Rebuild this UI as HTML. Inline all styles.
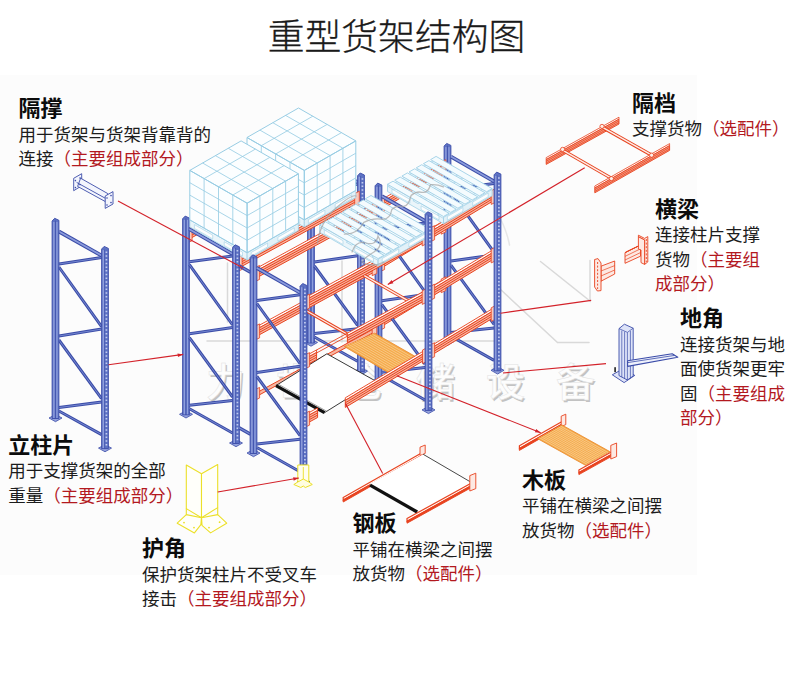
<!DOCTYPE html>
<html lang="zh-CN"><head><meta charset="utf-8"><title>重型货架结构图</title>
<style>
html,body{margin:0;padding:0;background:#fff;}
body{width:790px;height:692px;position:relative;overflow:hidden;font-family:"Liberation Sans","Noto Sans CJK SC",sans-serif;color:#151515;}
#bg{position:absolute;left:0;top:75px;width:697px;height:500px;background:#fcfcfc;}
#art{position:absolute;left:0;top:0;width:790px;height:692px;}
h1{position:absolute;left:1.5px;top:15px;width:790px;margin:0;text-align:center;font-size:36.8px;line-height:46px;font-weight:300;color:#1a1a1a;letter-spacing:0;-webkit-text-stroke:0.3px #1a1a1a;}
.lb{position:absolute;white-space:nowrap;}
.lb b{display:block;font-size:22px;line-height:24px;font-weight:700;color:#0c0c0c;height:27px;}
.lb p{position:absolute;left:0;margin:0;}
.lb span{display:block;font-size:17.5px;line-height:24.4px;font-weight:400;color:#1c1c1c;}
.lb em{font-style:normal;color:#b3191f;}
</style></head>
<body>
<div id="bg"></div>
<svg id="art" width="790" height="692" viewBox="0 0 790 692">
<g fill="none" stroke="#d6d6d6" stroke-width="1.5" stroke-linecap="round" opacity="0.9">
<path d="M207 341H498"/>
<path d="M227.5 263V322M342 261V342"/>
<path d="M540.5 261.5L590 301V260.5"/>
<path d="M500 289L557.5 342.5H589"/>
<path d="M509.5 245A95 95 0 0 0 500 218" stroke="#e4e4e4"/>
</g>
<text x="206 276 346 416 486 556" y="396.4" font-family="'Liberation Sans','Noto Sans CJK SC',sans-serif" font-size="39" font-weight="500" fill="#c2c2c2" transform="translate(1.5 1.4)">力世仓储设备</text>
<text x="206 276 346 416 486 556" y="396.4" font-family="'Liberation Sans','Noto Sans CJK SC',sans-serif" font-size="39" font-weight="500" fill="#fdfdfd" stroke="#e2e2e2" stroke-width="0.5">力世仓储设备</text>
<line x1="58.9" y1="231.5" x2="101.6" y2="255.6" stroke="#3b4ca8" stroke-width="3.8" stroke-linecap="butt"/>
<line x1="58.9" y1="231.5" x2="101.6" y2="255.6" stroke="#8a9bdc" stroke-width="1.7" />
<line x1="58.9" y1="264" x2="101.6" y2="257.6" stroke="#3b4ca8" stroke-width="3" stroke-linecap="butt"/>
<line x1="58.9" y1="264" x2="101.6" y2="257.6" stroke="#7a8dd4" stroke-width="0.9" />
<line x1="58.9" y1="267" x2="101.6" y2="326.6" stroke="#3b4ca8" stroke-width="3" stroke-linecap="butt"/>
<line x1="58.9" y1="267" x2="101.6" y2="326.6" stroke="#7a8dd4" stroke-width="0.9" />
<line x1="58.9" y1="336" x2="101.6" y2="329.1" stroke="#3b4ca8" stroke-width="3" stroke-linecap="butt"/>
<line x1="58.9" y1="336" x2="101.6" y2="329.1" stroke="#7a8dd4" stroke-width="0.9" />
<line x1="58.9" y1="340" x2="101.6" y2="398.6" stroke="#3b4ca8" stroke-width="3" stroke-linecap="butt"/>
<line x1="58.9" y1="340" x2="101.6" y2="398.6" stroke="#7a8dd4" stroke-width="0.9" />
<line x1="58.9" y1="407.5" x2="101.6" y2="402.1" stroke="#3b4ca8" stroke-width="3" stroke-linecap="butt"/>
<line x1="58.9" y1="407.5" x2="101.6" y2="402.1" stroke="#7a8dd4" stroke-width="0.9" />
<line x1="58.9" y1="411" x2="101.6" y2="434.6" stroke="#3b4ca8" stroke-width="3" stroke-linecap="butt"/>
<line x1="58.9" y1="411" x2="101.6" y2="434.6" stroke="#7a8dd4" stroke-width="0.9" />
<polygon points="49,418 55.5,414.5 62,418 55.5,421.7" fill="#93a1dc" stroke="#3b4ca8" stroke-width="0.8" />
<polygon points="52.1,221 54.7,218.3 58.9,220.3 58.9,418.5 52.1,418.5" fill="#5d72c4" stroke="#3b4ca8" stroke-width="0.9" />
<rect x="53.2" y="222" width="1.5" height="196" fill="#8f9fdd"/>
<rect x="56.3" y="222" width="1.3" height="196" fill="#8f9fdd"/>
<line x1="55.4" y1="220.5" x2="55.4" y2="418.5" stroke="#3b4ca8" stroke-width="0.8" />
<polygon points="98.5,448.1 105,444.6 111.5,448.1 105,451.8" fill="#93a1dc" stroke="#3b4ca8" stroke-width="0.8" />
<polygon points="101.6,249.1 104.2,246.4 108.4,248.4 108.4,448.6 101.6,448.6" fill="#5d72c4" stroke="#3b4ca8" stroke-width="0.9" />
<rect x="102.6" y="250.1" width="1.7" height="198" fill="#8f9fdd"/>
<line x1="106.4" y1="251.6" x2="106.4" y2="446.6" stroke="#c3ccf0" stroke-width="1.7" stroke-dasharray="1.5 2.2"/>
<line x1="104.6" y1="249.6" x2="104.6" y2="448.6" stroke="#3b4ca8" stroke-width="0.7" />
<polygon points="304.5,342.5 311,339 317.5,342.5 311,346.2" fill="#93a1dc" stroke="#3b4ca8" stroke-width="0.8" />
<polygon points="307.6,147 310.2,144.3 314.4,146.3 314.4,343 307.6,343" fill="#5d72c4" stroke="#3b4ca8" stroke-width="0.9" />
<rect x="308.7" y="148" width="1.5" height="194.5" fill="#8f9fdd"/>
<rect x="311.8" y="148" width="1.3" height="194.5" fill="#8f9fdd"/>
<line x1="310.9" y1="146.5" x2="310.9" y2="343" stroke="#3b4ca8" stroke-width="0.8" />
<line x1="314.4" y1="157.5" x2="357.6" y2="182.3" stroke="#3b4ca8" stroke-width="3.8" stroke-linecap="butt"/>
<line x1="314.4" y1="157.5" x2="357.6" y2="182.3" stroke="#8a9bdc" stroke-width="1.7" />
<line x1="314.4" y1="190" x2="357.6" y2="184.3" stroke="#3b4ca8" stroke-width="3" stroke-linecap="butt"/>
<line x1="314.4" y1="190" x2="357.6" y2="184.3" stroke="#7a8dd4" stroke-width="0.9" />
<line x1="314.4" y1="193" x2="357.6" y2="253.3" stroke="#3b4ca8" stroke-width="3" stroke-linecap="butt"/>
<line x1="314.4" y1="193" x2="357.6" y2="253.3" stroke="#7a8dd4" stroke-width="0.9" />
<line x1="314.4" y1="262" x2="357.6" y2="255.8" stroke="#3b4ca8" stroke-width="3" stroke-linecap="butt"/>
<line x1="314.4" y1="262" x2="357.6" y2="255.8" stroke="#7a8dd4" stroke-width="0.9" />
<line x1="314.4" y1="266" x2="357.6" y2="325.3" stroke="#3b4ca8" stroke-width="3" stroke-linecap="butt"/>
<line x1="314.4" y1="266" x2="357.6" y2="325.3" stroke="#7a8dd4" stroke-width="0.9" />
<line x1="314.4" y1="333.5" x2="357.6" y2="328.8" stroke="#3b4ca8" stroke-width="3" stroke-linecap="butt"/>
<line x1="314.4" y1="333.5" x2="357.6" y2="328.8" stroke="#7a8dd4" stroke-width="0.9" />
<line x1="314.4" y1="337" x2="357.6" y2="361.3" stroke="#3b4ca8" stroke-width="3" stroke-linecap="butt"/>
<line x1="314.4" y1="337" x2="357.6" y2="361.3" stroke="#7a8dd4" stroke-width="0.9" />
<polygon points="188.9,232.2 308.1,167.1 308.1,164.5 188.9,229.6" fill="#fffaf8" stroke="#e8431f" stroke-width="0.9" />
<polygon points="188.9,232.2 308.1,167.1 308.1,174.1 188.9,239.2" fill="#f7b5a1" stroke="#e8431f" stroke-width="1" />
<line x1="188.9" y1="234.6" x2="308.1" y2="169.5" stroke="#e8431f" stroke-width="1" />
<line x1="188.9" y1="236.8" x2="308.1" y2="171.7" stroke="#e8431f" stroke-width="1" />
<polygon points="187.9,228.7 192.1,226.7 192.1,240.7 187.9,242.7" fill="#f9c9bb" stroke="#e8431f" stroke-width="0.8" />
<polygon points="304.7,164.9 309.3,162.5 309.3,176.3 304.7,178.5" fill="#f9c9bb" stroke="#e8431f" stroke-width="0.8" />
<polygon points="441,341.6 447.5,338.1 454,341.6 447.5,345.3" fill="#93a1dc" stroke="#3b4ca8" stroke-width="0.8" />
<polygon points="444.1,146.1 446.7,143.4 450.9,145.4 450.9,342.1 444.1,342.1" fill="#5d72c4" stroke="#3b4ca8" stroke-width="0.9" />
<rect x="445.2" y="147.1" width="1.5" height="194.5" fill="#8f9fdd"/>
<rect x="448.3" y="147.1" width="1.3" height="194.5" fill="#8f9fdd"/>
<line x1="447.4" y1="145.6" x2="447.4" y2="342.1" stroke="#3b4ca8" stroke-width="0.8" />
<line x1="450.9" y1="156.6" x2="494.1" y2="181.4" stroke="#3b4ca8" stroke-width="3.8" stroke-linecap="butt"/>
<line x1="450.9" y1="156.6" x2="494.1" y2="181.4" stroke="#8a9bdc" stroke-width="1.7" />
<line x1="450.9" y1="189.1" x2="494.1" y2="183.4" stroke="#3b4ca8" stroke-width="3" stroke-linecap="butt"/>
<line x1="450.9" y1="189.1" x2="494.1" y2="183.4" stroke="#7a8dd4" stroke-width="0.9" />
<line x1="450.9" y1="192.1" x2="494.1" y2="252.4" stroke="#3b4ca8" stroke-width="3" stroke-linecap="butt"/>
<line x1="450.9" y1="192.1" x2="494.1" y2="252.4" stroke="#7a8dd4" stroke-width="0.9" />
<line x1="450.9" y1="261.1" x2="494.1" y2="254.9" stroke="#3b4ca8" stroke-width="3" stroke-linecap="butt"/>
<line x1="450.9" y1="261.1" x2="494.1" y2="254.9" stroke="#7a8dd4" stroke-width="0.9" />
<line x1="450.9" y1="265.1" x2="494.1" y2="324.4" stroke="#3b4ca8" stroke-width="3" stroke-linecap="butt"/>
<line x1="450.9" y1="265.1" x2="494.1" y2="324.4" stroke="#7a8dd4" stroke-width="0.9" />
<line x1="450.9" y1="332.6" x2="494.1" y2="327.9" stroke="#3b4ca8" stroke-width="3" stroke-linecap="butt"/>
<line x1="450.9" y1="332.6" x2="494.1" y2="327.9" stroke="#7a8dd4" stroke-width="0.9" />
<line x1="450.9" y1="336.1" x2="494.1" y2="360.4" stroke="#3b4ca8" stroke-width="3" stroke-linecap="butt"/>
<line x1="450.9" y1="336.1" x2="494.1" y2="360.4" stroke="#7a8dd4" stroke-width="0.9" />
<polygon points="381.4,202.5 444.6,164.3 444.6,161.7 381.4,199.9" fill="#fffaf8" stroke="#e8431f" stroke-width="0.9" />
<polygon points="381.4,202.5 444.6,164.3 444.6,171.3 381.4,209.5" fill="#f7b5a1" stroke="#e8431f" stroke-width="1" />
<line x1="381.4" y1="204.9" x2="444.6" y2="166.7" stroke="#e8431f" stroke-width="1" />
<line x1="381.4" y1="207.1" x2="444.6" y2="168.9" stroke="#e8431f" stroke-width="1" />
<polygon points="380.4,199 384.6,197 384.6,211 380.4,213" fill="#f9c9bb" stroke="#e8431f" stroke-width="0.8" />
<polygon points="441.2,162.1 445.8,159.7 445.8,173.5 441.2,175.7" fill="#f9c9bb" stroke="#e8431f" stroke-width="0.8" />
<polygon points="381.4,261 444.6,222.8 444.6,220.2 381.4,258.4" fill="#fffaf8" stroke="#e8431f" stroke-width="0.9" />
<polygon points="381.4,261 444.6,222.8 444.6,229.8 381.4,268" fill="#f7b5a1" stroke="#e8431f" stroke-width="1" />
<line x1="381.4" y1="263.4" x2="444.6" y2="225.2" stroke="#e8431f" stroke-width="1" />
<line x1="381.4" y1="265.6" x2="444.6" y2="227.4" stroke="#e8431f" stroke-width="1" />
<polygon points="380.4,257.5 384.6,255.5 384.6,269.5 380.4,271.5" fill="#f9c9bb" stroke="#e8431f" stroke-width="0.8" />
<polygon points="441.2,220.6 445.8,218.2 445.8,232 441.2,234.2" fill="#f9c9bb" stroke="#e8431f" stroke-width="0.8" />
<polygon points="381.4,319.5 444.6,281.3 444.6,278.7 381.4,316.9" fill="#fffaf8" stroke="#e8431f" stroke-width="0.9" />
<polygon points="381.4,319.5 444.6,281.3 444.6,288.3 381.4,326.5" fill="#f7b5a1" stroke="#e8431f" stroke-width="1" />
<line x1="381.4" y1="321.9" x2="444.6" y2="283.7" stroke="#e8431f" stroke-width="1" />
<line x1="381.4" y1="324.1" x2="444.6" y2="285.9" stroke="#e8431f" stroke-width="1" />
<polygon points="380.4,316 384.6,314 384.6,328 380.4,330" fill="#f9c9bb" stroke="#e8431f" stroke-width="0.8" />
<polygon points="441.2,279.1 445.8,276.7 445.8,290.5 441.2,292.7" fill="#f9c9bb" stroke="#e8431f" stroke-width="0.8" />
<polygon points="354.5,371.2 361,367.7 367.5,371.2 361,374.9" fill="#93a1dc" stroke="#3b4ca8" stroke-width="0.8" />
<polygon points="357.6,175.7 360.2,173 364.4,175 364.4,371.7 357.6,371.7" fill="#5d72c4" stroke="#3b4ca8" stroke-width="0.9" />
<rect x="358.6" y="176.7" width="1.7" height="194.5" fill="#8f9fdd"/>
<line x1="362.4" y1="178.2" x2="362.4" y2="369.7" stroke="#c3ccf0" stroke-width="1.7" stroke-dasharray="1.5 2.2"/>
<line x1="360.6" y1="176.2" x2="360.6" y2="371.7" stroke="#3b4ca8" stroke-width="0.7" />
<polygon points="372,381.2 378.5,377.8 385,381.2 378.5,384.9" fill="#93a1dc" stroke="#3b4ca8" stroke-width="0.8" />
<polygon points="375.1,185.8 377.7,183.1 381.9,185.1 381.9,381.8 375.1,381.8" fill="#5d72c4" stroke="#3b4ca8" stroke-width="0.9" />
<rect x="376.2" y="186.8" width="1.5" height="194.5" fill="#8f9fdd"/>
<rect x="379.3" y="186.8" width="1.3" height="194.5" fill="#8f9fdd"/>
<line x1="378.4" y1="185.2" x2="378.4" y2="381.8" stroke="#3b4ca8" stroke-width="0.8" />
<line x1="381.9" y1="196.2" x2="425.1" y2="221" stroke="#3b4ca8" stroke-width="3.8" stroke-linecap="butt"/>
<line x1="381.9" y1="196.2" x2="425.1" y2="221" stroke="#8a9bdc" stroke-width="1.7" />
<line x1="381.9" y1="228.7" x2="425.1" y2="223" stroke="#3b4ca8" stroke-width="3" stroke-linecap="butt"/>
<line x1="381.9" y1="228.7" x2="425.1" y2="223" stroke="#7a8dd4" stroke-width="0.9" />
<line x1="381.9" y1="231.7" x2="425.1" y2="292" stroke="#3b4ca8" stroke-width="3" stroke-linecap="butt"/>
<line x1="381.9" y1="231.7" x2="425.1" y2="292" stroke="#7a8dd4" stroke-width="0.9" />
<line x1="381.9" y1="300.7" x2="425.1" y2="294.5" stroke="#3b4ca8" stroke-width="3" stroke-linecap="butt"/>
<line x1="381.9" y1="300.7" x2="425.1" y2="294.5" stroke="#7a8dd4" stroke-width="0.9" />
<line x1="381.9" y1="304.7" x2="425.1" y2="364" stroke="#3b4ca8" stroke-width="3" stroke-linecap="butt"/>
<line x1="381.9" y1="304.7" x2="425.1" y2="364" stroke="#7a8dd4" stroke-width="0.9" />
<line x1="381.9" y1="372.2" x2="425.1" y2="367.5" stroke="#3b4ca8" stroke-width="3" stroke-linecap="butt"/>
<line x1="381.9" y1="372.2" x2="425.1" y2="367.5" stroke="#7a8dd4" stroke-width="0.9" />
<line x1="381.9" y1="375.7" x2="425.1" y2="400" stroke="#3b4ca8" stroke-width="3" stroke-linecap="butt"/>
<line x1="381.9" y1="375.7" x2="425.1" y2="400" stroke="#7a8dd4" stroke-width="0.9" />
<polygon points="179.5,414.3 186,410.8 192.5,414.3 186,418" fill="#93a1dc" stroke="#3b4ca8" stroke-width="0.8" />
<polygon points="182.6,218.8 185.2,216.1 189.4,218.1 189.4,414.8 182.6,414.8" fill="#5d72c4" stroke="#3b4ca8" stroke-width="0.9" />
<rect x="183.7" y="219.8" width="1.5" height="194.5" fill="#8f9fdd"/>
<rect x="186.8" y="219.8" width="1.3" height="194.5" fill="#8f9fdd"/>
<line x1="185.9" y1="218.3" x2="185.9" y2="414.8" stroke="#3b4ca8" stroke-width="0.8" />
<line x1="189.4" y1="229.2" x2="232.6" y2="254" stroke="#3b4ca8" stroke-width="3.8" stroke-linecap="butt"/>
<line x1="189.4" y1="229.2" x2="232.6" y2="254" stroke="#8a9bdc" stroke-width="1.7" />
<line x1="189.4" y1="261.7" x2="232.6" y2="256" stroke="#3b4ca8" stroke-width="3" stroke-linecap="butt"/>
<line x1="189.4" y1="261.7" x2="232.6" y2="256" stroke="#7a8dd4" stroke-width="0.9" />
<line x1="189.4" y1="264.7" x2="232.6" y2="325" stroke="#3b4ca8" stroke-width="3" stroke-linecap="butt"/>
<line x1="189.4" y1="264.7" x2="232.6" y2="325" stroke="#7a8dd4" stroke-width="0.9" />
<line x1="189.4" y1="333.7" x2="232.6" y2="327.5" stroke="#3b4ca8" stroke-width="3" stroke-linecap="butt"/>
<line x1="189.4" y1="333.7" x2="232.6" y2="327.5" stroke="#7a8dd4" stroke-width="0.9" />
<line x1="189.4" y1="337.7" x2="232.6" y2="397" stroke="#3b4ca8" stroke-width="3" stroke-linecap="butt"/>
<line x1="189.4" y1="337.7" x2="232.6" y2="397" stroke="#7a8dd4" stroke-width="0.9" />
<line x1="189.4" y1="405.2" x2="232.6" y2="400.5" stroke="#3b4ca8" stroke-width="3" stroke-linecap="butt"/>
<line x1="189.4" y1="405.2" x2="232.6" y2="400.5" stroke="#7a8dd4" stroke-width="0.9" />
<line x1="189.4" y1="408.7" x2="232.6" y2="433" stroke="#3b4ca8" stroke-width="3" stroke-linecap="butt"/>
<line x1="189.4" y1="408.7" x2="232.6" y2="433" stroke="#7a8dd4" stroke-width="0.9" />
<polygon points="238.9,260.9 358.1,195.8 358.1,193.2 238.9,258.3" fill="#fffaf8" stroke="#e8431f" stroke-width="0.9" />
<polygon points="238.9,260.9 358.1,195.8 358.1,202.8 238.9,267.9" fill="#f7b5a1" stroke="#e8431f" stroke-width="1" />
<line x1="238.9" y1="263.3" x2="358.1" y2="198.2" stroke="#e8431f" stroke-width="1" />
<line x1="238.9" y1="265.5" x2="358.1" y2="200.4" stroke="#e8431f" stroke-width="1" />
<polygon points="237.9,257.4 242.1,255.4 242.1,269.4 237.9,271.4" fill="#f9c9bb" stroke="#e8431f" stroke-width="0.8" />
<polygon points="354.7,193.6 359.3,191.2 359.3,205 354.7,207.2" fill="#f9c9bb" stroke="#e8431f" stroke-width="0.8" />
<polygon points="247,186.9 304.3,219.8 304.3,227 247,194.1" fill="#eaf5fa" stroke="#9fd0e6" stroke-width="0.8" />
<polygon points="304.3,219.8 355.8,190.3 355.8,197.5 304.3,227" fill="#e2f1f8" stroke="#9fd0e6" stroke-width="0.8" />
<polygon points="308.4,219.7 324.9,210.2 324.9,214 308.4,223.5" fill="#fdfdfd" stroke="#9fd0e6" stroke-width="0.6" />
<polygon points="335.2,204.3 351.7,194.8 351.7,198.6 335.2,208.1" fill="#fdfdfd" stroke="#9fd0e6" stroke-width="0.6" />
<polygon points="251.6,191.8 269.9,202.3 269.9,206.1 251.6,195.6" fill="#fdfdfd" stroke="#9fd0e6" stroke-width="0.6" />
<polygon points="281.4,208.9 299.7,219.4 299.7,223.2 281.4,212.7" fill="#fdfdfd" stroke="#9fd0e6" stroke-width="0.6" />
<polygon points="247,186.9 298.5,157.4 355.8,190.3 304.3,219.8" fill="#f4fbfe" stroke="#9fd0e6" stroke-width="0.9" />
<polygon points="247,137.5 298.5,108 355.8,140.9 355.8,190.3 304.3,219.8 247,186.9" fill="#fcfeff" stroke="none" stroke-width="1" />
<g stroke="#98cde4" stroke-width="0.85" fill="none">
<polygon points="247,137.5 298.5,108 355.8,140.9 304.3,170.4" fill="none" stroke="#98cde4" stroke-width="1" />
<polygon points="247,137.5 304.3,170.4 304.3,219.8 247,186.9" fill="none" stroke="#98cde4" stroke-width="1" />
<polygon points="304.3,170.4 355.8,140.9 355.8,190.3 304.3,219.8" fill="none" stroke="#98cde4" stroke-width="1" />
<path d="M259.9 130.1L317.2 163M317.2 163L317.2 212.4M272.8 122.7L330.1 155.6M330.1 155.6L330.1 205M285.6 115.4L342.9 148.2M342.9 148.2L342.9 197.6M261.3 145.7L312.8 116.2M261.3 145.7L261.3 195.1M275.6 154L327.1 124.4M275.6 154L275.6 203.4M290 162.2L341.5 132.6M290 162.2L290 211.6M247 149.9L304.3 182.8M304.3 182.8L355.8 153.2M247 162.2L304.3 195.1M304.3 195.1L355.8 165.6M247 174.6L304.3 207.5M304.3 207.5L355.8 177.9"/>
</g>
<polygon points="189.8,219.8 247.1,252.7 247.1,259.9 189.8,227" fill="#eaf5fa" stroke="#9fd0e6" stroke-width="0.8" />
<polygon points="247.1,252.7 298.4,223.2 298.4,230.4 247.1,259.9" fill="#e2f1f8" stroke="#9fd0e6" stroke-width="0.8" />
<polygon points="251.2,252.5 267.6,243.1 267.6,246.9 251.2,256.3" fill="#fdfdfd" stroke="#9fd0e6" stroke-width="0.6" />
<polygon points="277.9,237.2 294.3,227.8 294.3,231.6 277.9,241" fill="#fdfdfd" stroke="#9fd0e6" stroke-width="0.6" />
<polygon points="194.4,224.6 212.7,235.1 212.7,238.9 194.4,228.4" fill="#fdfdfd" stroke="#9fd0e6" stroke-width="0.6" />
<polygon points="224.2,241.7 242.5,252.2 242.5,256 224.2,245.5" fill="#fdfdfd" stroke="#9fd0e6" stroke-width="0.6" />
<polygon points="189.8,219.8 241.1,190.3 298.4,223.2 247.1,252.7" fill="#f4fbfe" stroke="#9fd0e6" stroke-width="0.9" />
<polygon points="189.8,170.4 241.1,140.9 298.4,173.8 298.4,223.2 247.1,252.7 189.8,219.8" fill="#fcfeff" stroke="none" stroke-width="1" />
<g stroke="#98cde4" stroke-width="0.85" fill="none">
<polygon points="189.8,170.4 241.1,140.9 298.4,173.8 247.1,203.2" fill="none" stroke="#98cde4" stroke-width="1" />
<polygon points="189.8,170.4 247.1,203.2 247.1,252.7 189.8,219.8" fill="none" stroke="#98cde4" stroke-width="1" />
<polygon points="247.1,203.2 298.4,173.8 298.4,223.2 247.1,252.7" fill="none" stroke="#98cde4" stroke-width="1" />
<path d="M202.6 163L259.9 195.9M259.9 195.9L259.9 245.3M215.4 155.6L272.8 188.5M272.8 188.5L272.8 237.9M228.3 148.3L285.6 181.2M285.6 181.2L285.6 230.6M204.1 178.6L255.4 149.1M204.1 178.6L204.1 228M218.5 186.8L269.8 157.4M218.5 186.8L218.5 236.2M232.8 195L284.1 165.6M232.8 195L232.8 244.4M189.8 182.7L247.1 215.6M247.1 215.6L298.4 186.2M189.8 195.1L247.1 228M247.1 228L298.4 198.5M189.8 207.4L247.1 240.3M247.1 240.3L298.4 210.9"/>
</g>
<polygon points="229.5,443 236,439.5 242.5,443 236,446.7" fill="#93a1dc" stroke="#3b4ca8" stroke-width="0.8" />
<polygon points="232.6,247.5 235.2,244.8 239.4,246.8 239.4,443.5 232.6,443.5" fill="#5d72c4" stroke="#3b4ca8" stroke-width="0.9" />
<rect x="233.6" y="248.5" width="1.7" height="194.5" fill="#8f9fdd"/>
<line x1="237.4" y1="250" x2="237.4" y2="441.5" stroke="#c3ccf0" stroke-width="1.7" stroke-dasharray="1.5 2.2"/>
<line x1="235.6" y1="248" x2="235.6" y2="443.5" stroke="#3b4ca8" stroke-width="0.7" />
<line x1="239" y1="265.7" x2="250.5" y2="272.3" stroke="#3b4ca8" stroke-width="3.4" stroke-linecap="butt"/>
<line x1="239" y1="265.7" x2="250.5" y2="272.3" stroke="#7a8dd4" stroke-width="1.3" />
<line x1="239" y1="427.7" x2="250.5" y2="434.3" stroke="#3b4ca8" stroke-width="3.4" stroke-linecap="butt"/>
<line x1="239" y1="427.7" x2="250.5" y2="434.3" stroke="#7a8dd4" stroke-width="1.3" />
<polygon points="256.4,270.9 375.6,205.8 375.6,203.2 256.4,268.3" fill="#fffaf8" stroke="#e8431f" stroke-width="0.9" />
<polygon points="256.4,270.9 375.6,205.8 375.6,212.8 256.4,277.9" fill="#f7b5a1" stroke="#e8431f" stroke-width="1" />
<line x1="256.4" y1="273.3" x2="375.6" y2="208.2" stroke="#e8431f" stroke-width="1" />
<line x1="256.4" y1="275.5" x2="375.6" y2="210.5" stroke="#e8431f" stroke-width="1" />
<polygon points="255.4,267.4 259.6,265.4 259.6,279.4 255.4,281.4" fill="#f9c9bb" stroke="#e8431f" stroke-width="0.8" />
<polygon points="372.2,203.6 376.8,201.2 376.8,215 372.2,217.2" fill="#f9c9bb" stroke="#e8431f" stroke-width="0.8" />
<polygon points="256.4,329.4 375.6,264.3 375.6,261.7 256.4,326.8" fill="#fffaf8" stroke="#e8431f" stroke-width="0.9" />
<polygon points="256.4,329.4 375.6,264.3 375.6,271.3 256.4,336.4" fill="#f7b5a1" stroke="#e8431f" stroke-width="1" />
<line x1="256.4" y1="331.8" x2="375.6" y2="266.7" stroke="#e8431f" stroke-width="1" />
<line x1="256.4" y1="334" x2="375.6" y2="269" stroke="#e8431f" stroke-width="1" />
<polygon points="255.4,325.9 259.6,323.9 259.6,337.9 255.4,339.9" fill="#f9c9bb" stroke="#e8431f" stroke-width="0.8" />
<polygon points="372.2,262.1 376.8,259.7 376.8,273.5 372.2,275.7" fill="#f9c9bb" stroke="#e8431f" stroke-width="0.8" />
<polygon points="256.4,392.9 375.6,327.8 375.6,331.4 256.4,396.5" fill="#f7b5a1" stroke="#e8431f" stroke-width="1" />
<polygon points="255.4,389.4 259.6,387.4 259.6,398 255.4,400" fill="#f9c9bb" stroke="#e8431f" stroke-width="0.8" />
<polygon points="372.2,325.6 376.8,323.2 376.8,333.6 372.2,335.8" fill="#f9c9bb" stroke="#e8431f" stroke-width="0.8" />
<polygon points="247,453 253.5,449.5 260,453 253.5,456.7" fill="#93a1dc" stroke="#3b4ca8" stroke-width="0.8" />
<polygon points="250.1,257.5 252.7,254.8 256.9,256.8 256.9,453.5 250.1,453.5" fill="#5d72c4" stroke="#3b4ca8" stroke-width="0.9" />
<rect x="251.2" y="258.5" width="1.5" height="194.5" fill="#8f9fdd"/>
<rect x="254.3" y="258.5" width="1.3" height="194.5" fill="#8f9fdd"/>
<line x1="253.4" y1="257" x2="253.4" y2="453.5" stroke="#3b4ca8" stroke-width="0.8" />
<line x1="256.9" y1="268" x2="300.1" y2="292.7" stroke="#3b4ca8" stroke-width="3.8" stroke-linecap="butt"/>
<line x1="256.9" y1="268" x2="300.1" y2="292.7" stroke="#8a9bdc" stroke-width="1.7" />
<line x1="256.9" y1="300.5" x2="300.1" y2="294.7" stroke="#3b4ca8" stroke-width="3" stroke-linecap="butt"/>
<line x1="256.9" y1="300.5" x2="300.1" y2="294.7" stroke="#7a8dd4" stroke-width="0.9" />
<line x1="256.9" y1="303.5" x2="300.1" y2="363.7" stroke="#3b4ca8" stroke-width="3" stroke-linecap="butt"/>
<line x1="256.9" y1="303.5" x2="300.1" y2="363.7" stroke="#7a8dd4" stroke-width="0.9" />
<line x1="256.9" y1="372.5" x2="300.1" y2="366.2" stroke="#3b4ca8" stroke-width="3" stroke-linecap="butt"/>
<line x1="256.9" y1="372.5" x2="300.1" y2="366.2" stroke="#7a8dd4" stroke-width="0.9" />
<line x1="256.9" y1="376.5" x2="300.1" y2="435.7" stroke="#3b4ca8" stroke-width="3" stroke-linecap="butt"/>
<line x1="256.9" y1="376.5" x2="300.1" y2="435.7" stroke="#7a8dd4" stroke-width="0.9" />
<line x1="256.9" y1="444" x2="300.1" y2="439.2" stroke="#3b4ca8" stroke-width="3" stroke-linecap="butt"/>
<line x1="256.9" y1="444" x2="300.1" y2="439.2" stroke="#7a8dd4" stroke-width="0.9" />
<line x1="256.9" y1="447.5" x2="300.1" y2="471.7" stroke="#3b4ca8" stroke-width="3" stroke-linecap="butt"/>
<line x1="256.9" y1="447.5" x2="300.1" y2="471.7" stroke="#7a8dd4" stroke-width="0.9" />
<polygon points="276,385.6 326.9,353.8 375.4,380.9 324.5,412.7" fill="#ffffff" stroke="#222" stroke-width="0.9" />
<line x1="276" y1="385.6" x2="324.5" y2="412.7" stroke="#111" stroke-width="3.2" />
<line x1="278.6" y1="384.4" x2="327.1" y2="411.5" stroke="#777" stroke-width="0.7" />
<polygon points="344.4,346.5 374.6,333.2 416.4,357.1 387.9,372.4" fill="#f5ab4c" stroke="#e8882a" stroke-width="0.8" />
<path d="M346.7 345.5L390.1 371.2M349 344.5L392.3 370M351.4 343.4L394.5 368.9M353.7 342.4L396.7 367.7M356 341.4L398.9 366.5M358.3 340.4L401.1 365.3M360.7 339.3L403.2 364.2M363 338.3L405.4 363M365.3 337.3L407.6 361.8M367.6 336.3L409.8 360.6M370 335.2L412 359.5M372.3 334.2L414.2 358.3" fill="none" stroke="#f9d29c" stroke-width="0.7" />
<line x1="302.5" y1="308.5" x2="350.5" y2="336" stroke="#e8431f" stroke-width="3.2" />
<line x1="302.5" y1="308.5" x2="350.5" y2="336" stroke="#fdeee9" stroke-width="1.4" />
<line x1="363.5" y1="275.2" x2="411.5" y2="302.7" stroke="#e8431f" stroke-width="3.2" />
<line x1="363.5" y1="275.2" x2="411.5" y2="302.7" stroke="#fdeee9" stroke-width="1.4" />
<polygon points="431.4,231.2 494.6,193 494.6,190.4 431.4,228.6" fill="#fffaf8" stroke="#e8431f" stroke-width="0.9" />
<polygon points="431.4,231.2 494.6,193 494.6,200 431.4,238.2" fill="#f7b5a1" stroke="#e8431f" stroke-width="1" />
<line x1="431.4" y1="233.6" x2="494.6" y2="195.4" stroke="#e8431f" stroke-width="1" />
<line x1="431.4" y1="235.8" x2="494.6" y2="197.6" stroke="#e8431f" stroke-width="1" />
<polygon points="430.4,227.7 434.6,225.7 434.6,239.7 430.4,241.7" fill="#f9c9bb" stroke="#e8431f" stroke-width="0.8" />
<polygon points="491.2,190.8 495.8,188.4 495.8,202.2 491.2,204.4" fill="#f9c9bb" stroke="#e8431f" stroke-width="0.8" />
<polygon points="431.4,289.7 494.6,251.5 494.6,248.9 431.4,287.1" fill="#fffaf8" stroke="#e8431f" stroke-width="0.9" />
<polygon points="431.4,289.7 494.6,251.5 494.6,258.5 431.4,296.7" fill="#f7b5a1" stroke="#e8431f" stroke-width="1" />
<line x1="431.4" y1="292.1" x2="494.6" y2="253.9" stroke="#e8431f" stroke-width="1" />
<line x1="431.4" y1="294.3" x2="494.6" y2="256.1" stroke="#e8431f" stroke-width="1" />
<polygon points="430.4,286.2 434.6,284.2 434.6,298.2 430.4,300.2" fill="#f9c9bb" stroke="#e8431f" stroke-width="0.8" />
<polygon points="491.2,249.3 495.8,246.9 495.8,260.7 491.2,262.9" fill="#f9c9bb" stroke="#e8431f" stroke-width="0.8" />
<polygon points="431.4,348.2 494.6,310 494.6,307.4 431.4,345.6" fill="#fffaf8" stroke="#e8431f" stroke-width="0.9" />
<polygon points="431.4,348.2 494.6,310 494.6,317 431.4,355.2" fill="#f7b5a1" stroke="#e8431f" stroke-width="1" />
<line x1="431.4" y1="350.6" x2="494.6" y2="312.4" stroke="#e8431f" stroke-width="1" />
<line x1="431.4" y1="352.8" x2="494.6" y2="314.6" stroke="#e8431f" stroke-width="1" />
<polygon points="430.4,344.7 434.6,342.7 434.6,356.7 430.4,358.7" fill="#f9c9bb" stroke="#e8431f" stroke-width="0.8" />
<polygon points="491.2,307.8 495.8,305.4 495.8,319.2 491.2,321.4" fill="#f9c9bb" stroke="#e8431f" stroke-width="0.8" />
<polygon points="345.3,400.4 425.9,352.2 425.9,349.6 345.3,397.8" fill="#fffaf8" stroke="#e8431f" stroke-width="0.9" />
<polygon points="345.3,400.4 425.9,352.2 425.9,359.2 345.3,407.4" fill="#f7b5a1" stroke="#e8431f" stroke-width="1" />
<line x1="345.3" y1="402.8" x2="425.9" y2="354.6" stroke="#e8431f" stroke-width="1" />
<line x1="345.3" y1="405" x2="425.9" y2="356.8" stroke="#e8431f" stroke-width="1" />
<polygon points="422.5,350 427.1,347.6 427.1,361.4 422.5,363.6" fill="#f9c9bb" stroke="#e8431f" stroke-width="0.8" />
<polygon points="306.4,416.6 317.6,410.5 317.6,407.9 306.4,414" fill="#fffaf8" stroke="#e8431f" stroke-width="0.9" />
<polygon points="306.4,416.6 317.6,410.5 317.6,417.5 306.4,423.6" fill="#f7b5a1" stroke="#e8431f" stroke-width="1" />
<line x1="306.4" y1="419" x2="317.6" y2="412.9" stroke="#e8431f" stroke-width="1" />
<line x1="306.4" y1="421.2" x2="317.6" y2="415.1" stroke="#e8431f" stroke-width="1" />
<polygon points="305.4,413.1 309.6,411.1 309.6,425.1 305.4,427.1" fill="#f9c9bb" stroke="#e8431f" stroke-width="0.8" />
<polygon points="306.4,358.1 316.6,352.5 316.6,349.9 306.4,355.5" fill="#fffaf8" stroke="#e8431f" stroke-width="0.9" />
<polygon points="306.4,358.1 316.6,352.5 316.6,359.5 306.4,365.1" fill="#f7b5a1" stroke="#e8431f" stroke-width="1" />
<line x1="306.4" y1="360.5" x2="316.6" y2="354.9" stroke="#e8431f" stroke-width="1" />
<line x1="306.4" y1="362.7" x2="316.6" y2="357.2" stroke="#e8431f" stroke-width="1" />
<polygon points="305.4,354.6 309.6,352.6 309.6,366.6 305.4,368.6" fill="#f9c9bb" stroke="#e8431f" stroke-width="0.8" />
<line x1="316.5" y1="350" x2="347.5" y2="333.1" stroke="#e8431f" stroke-width="0.9" />
<line x1="316.5" y1="353" x2="347.5" y2="336.1" stroke="#e8431f" stroke-width="0.9" />
<polygon points="347.4,335.7 425.6,293 425.6,290.4 347.4,333.1" fill="#fffaf8" stroke="#e8431f" stroke-width="0.9" />
<polygon points="347.4,335.7 425.6,293 425.6,300 347.4,342.7" fill="#f7b5a1" stroke="#e8431f" stroke-width="1" />
<line x1="347.4" y1="338.1" x2="425.6" y2="295.4" stroke="#e8431f" stroke-width="1" />
<line x1="347.4" y1="340.4" x2="425.6" y2="297.7" stroke="#e8431f" stroke-width="1" />
<polygon points="422.2,290.8 426.8,288.4 426.8,302.2 422.2,304.4" fill="#f9c9bb" stroke="#e8431f" stroke-width="0.8" />
<polygon points="306.4,299.6 425.6,234.5 425.6,231.9 306.4,297" fill="#fffaf8" stroke="#e8431f" stroke-width="0.9" />
<polygon points="306.4,299.6 425.6,234.5 425.6,241.5 306.4,306.6" fill="#f7b5a1" stroke="#e8431f" stroke-width="1" />
<line x1="306.4" y1="302" x2="425.6" y2="236.9" stroke="#e8431f" stroke-width="1" />
<line x1="306.4" y1="304.2" x2="425.6" y2="239.2" stroke="#e8431f" stroke-width="1" />
<polygon points="305.4,296.1 309.6,294.1 309.6,308.1 305.4,310.1" fill="#f9c9bb" stroke="#e8431f" stroke-width="0.8" />
<polygon points="422.2,232.3 426.8,229.9 426.8,243.7 422.2,245.9" fill="#f9c9bb" stroke="#e8431f" stroke-width="0.8" />
<polygon points="319.6,225 378.1,258.6 378.1,265.8 319.6,232.2" fill="#eaf5fa" stroke="#9fd0e6" stroke-width="0.8" />
<polygon points="378.1,258.6 429.5,229.1 429.5,236.3 378.1,265.8" fill="#e2f1f8" stroke="#9fd0e6" stroke-width="0.8" />
<polygon points="382.2,258.5 398.7,249 398.7,252.8 382.2,262.3" fill="#fdfdfd" stroke="#9fd0e6" stroke-width="0.6" />
<polygon points="408.9,243.1 425.4,233.7 425.4,237.5 408.9,246.9" fill="#fdfdfd" stroke="#9fd0e6" stroke-width="0.6" />
<polygon points="324.3,229.9 343,240.7 343,244.5 324.3,233.7" fill="#fdfdfd" stroke="#9fd0e6" stroke-width="0.6" />
<polygon points="354.7,247.4 373.4,258.1 373.4,261.9 354.7,251.2" fill="#fdfdfd" stroke="#9fd0e6" stroke-width="0.6" />
<polygon points="320.5,227.4 371.9,197.9 377.1,200.8 325.7,230.3" fill="#e9f5fa" stroke="#9fd0e6" stroke-width="0.7" />
<polygon points="346.2,242.1 397.6,212.6 402.9,215.6 351.5,245.1" fill="#e9f5fa" stroke="#9fd0e6" stroke-width="0.7" />
<polygon points="372,256.9 423.4,227.4 428.6,230.4 377.2,259.9" fill="#e9f5fa" stroke="#9fd0e6" stroke-width="0.7" />
<polygon points="319.6,225 325.4,221.7 383.9,255.3 378.1,258.6" fill="#f4fbfe" stroke="#9fd0e6" stroke-width="0.9" />
<polygon points="327.2,220.7 333,217.3 391.5,250.9 385.7,254.3" fill="#f4fbfe" stroke="#9fd0e6" stroke-width="0.9" />
<polygon points="334.8,216.3 340.6,213 399.1,246.5 393.3,249.9" fill="#f4fbfe" stroke="#9fd0e6" stroke-width="0.9" />
<polygon points="342.4,212 348.2,208.6 406.7,242.2 400.9,245.5" fill="#f4fbfe" stroke="#9fd0e6" stroke-width="0.9" />
<polygon points="350,207.6 355.8,204.3 414.3,237.8 408.5,241.2" fill="#f4fbfe" stroke="#9fd0e6" stroke-width="0.9" />
<polygon points="357.6,203.2 363.4,199.9 421.9,233.5 416.1,236.8" fill="#f4fbfe" stroke="#9fd0e6" stroke-width="0.9" />
<polygon points="365.2,198.9 371,195.5 429.5,229.1 423.7,232.5" fill="#f4fbfe" stroke="#9fd0e6" stroke-width="0.9" />
<polygon points="387.5,184.3 443.5,216.5 443.5,223.7 387.5,191.5" fill="#eaf5fa" stroke="#9fd0e6" stroke-width="0.8" />
<polygon points="443.5,216.5 492.1,188.6 492.1,195.8 443.5,223.7" fill="#e2f1f8" stroke="#9fd0e6" stroke-width="0.8" />
<polygon points="447.4,216.5 462.9,207.5 462.9,211.3 447.4,220.3" fill="#fdfdfd" stroke="#9fd0e6" stroke-width="0.6" />
<polygon points="472.7,202 488.2,193 488.2,196.8 472.7,205.8" fill="#fdfdfd" stroke="#9fd0e6" stroke-width="0.6" />
<polygon points="392,189.1 409.9,199.4 409.9,203.2 392,192.9" fill="#fdfdfd" stroke="#9fd0e6" stroke-width="0.6" />
<polygon points="421.1,205.8 439,216.1 439,219.9 421.1,209.6" fill="#fdfdfd" stroke="#9fd0e6" stroke-width="0.6" />
<polygon points="388.3,186.6 436.9,158.7 442.1,161.7 393.5,189.6" fill="#e9f5fa" stroke="#9fd0e6" stroke-width="0.7" />
<polygon points="412.9,200.7 461.5,172.8 466.7,175.8 418.1,203.7" fill="#e9f5fa" stroke="#9fd0e6" stroke-width="0.7" />
<polygon points="437.5,214.9 486.1,187 491.3,190 442.7,217.9" fill="#e9f5fa" stroke="#9fd0e6" stroke-width="0.7" />
<polygon points="387.5,184.3 393,181.2 449,213.3 443.5,216.5" fill="#f4fbfe" stroke="#9fd0e6" stroke-width="0.9" />
<polygon points="394.7,180.2 400.2,177.1 456.2,209.2 450.7,212.4" fill="#f4fbfe" stroke="#9fd0e6" stroke-width="0.9" />
<polygon points="401.9,176.1 407.4,172.9 463.4,205.1 457.9,208.2" fill="#f4fbfe" stroke="#9fd0e6" stroke-width="0.9" />
<polygon points="409,172 414.6,168.8 470.6,201 465,204.1" fill="#f4fbfe" stroke="#9fd0e6" stroke-width="0.9" />
<polygon points="416.2,167.9 421.7,164.7 477.7,196.8 472.2,200" fill="#f4fbfe" stroke="#9fd0e6" stroke-width="0.9" />
<polygon points="423.4,163.7 428.9,160.6 484.9,192.7 479.4,195.9" fill="#f4fbfe" stroke="#9fd0e6" stroke-width="0.9" />
<polygon points="430.6,159.6 436.1,156.4 492.1,188.6 486.6,191.8" fill="#f4fbfe" stroke="#9fd0e6" stroke-width="0.9" />
<polygon points="491,370.3 497.5,366.8 504,370.3 497.5,374" fill="#93a1dc" stroke="#3b4ca8" stroke-width="0.8" />
<polygon points="494.1,174.8 496.7,172.1 500.9,174.1 500.9,370.8 494.1,370.8" fill="#5d72c4" stroke="#3b4ca8" stroke-width="0.9" />
<rect x="495.1" y="175.8" width="1.7" height="194.5" fill="#8f9fdd"/>
<line x1="498.9" y1="177.3" x2="498.9" y2="368.8" stroke="#c3ccf0" stroke-width="1.7" stroke-dasharray="1.5 2.2"/>
<line x1="497.1" y1="175.3" x2="497.1" y2="370.8" stroke="#3b4ca8" stroke-width="0.7" />
<polygon points="422,409.9 428.5,406.4 435,409.9 428.5,413.6" fill="#93a1dc" stroke="#3b4ca8" stroke-width="0.8" />
<polygon points="425.1,214.4 427.7,211.8 431.9,213.8 431.9,410.4 425.1,410.4" fill="#5d72c4" stroke="#3b4ca8" stroke-width="0.9" />
<rect x="426.1" y="215.4" width="1.7" height="194.5" fill="#8f9fdd"/>
<line x1="429.9" y1="216.9" x2="429.9" y2="408.4" stroke="#c3ccf0" stroke-width="1.7" stroke-dasharray="1.5 2.2"/>
<line x1="428.1" y1="214.9" x2="428.1" y2="410.4" stroke="#3b4ca8" stroke-width="0.7" />
<polygon points="297,481.7 303.5,478.2 310,481.7 303.5,485.4" fill="#93a1dc" stroke="#3b4ca8" stroke-width="0.8" />
<polygon points="300.1,286.2 302.7,283.5 306.9,285.5 306.9,482.2 300.1,482.2" fill="#5d72c4" stroke="#3b4ca8" stroke-width="0.9" />
<rect x="301.1" y="287.2" width="1.7" height="194.5" fill="#8f9fdd"/>
<line x1="304.9" y1="288.7" x2="304.9" y2="480.2" stroke="#c3ccf0" stroke-width="1.7" stroke-dasharray="1.5 2.2"/>
<line x1="303.1" y1="286.7" x2="303.1" y2="482.2" stroke="#3b4ca8" stroke-width="0.7" />
<polygon points="297.8,465 308.8,465 308.8,482 297.8,482" fill="#fffef0" stroke="#ece028" stroke-width="1" />
<line x1="303.3" y1="467" x2="303.3" y2="482" stroke="#ece028" stroke-width="0.9" />
<polygon points="297.8,482 303.3,479 308.8,482 312.3,484.5 305.3,487.5 303.3,486 300.8,487.5 293.8,484.5" fill="#fffde0" stroke="#ece028" stroke-width="1" />
<g fill="none" stroke="#a4a4a4" stroke-width="1.3" stroke-linecap="round" opacity="0.7">
<path d="M317.5 243Q320 222 336 208T356 196"/>
<path d="M344.4 234.2Q352 234 356.3 231T363.8 222.4Q372 218 381 219.2T391.8 209.5Q397 205 402.5 206.3T411.1 195.5Q416 191 421.9 192.3T430.5 184.7Q437 184 443.4 186.9"/>
<path d="M352 252Q356 240 366 243T378 236Q384 246 374 252T362 262Q372 268 384 262"/>
</g>
<g stroke="#3b4ca8" stroke-width="0.9" fill="#f3f5fd" stroke-linejoin="round">
<polygon points="73.7,178.3 81.7,173.7 81.7,185.8 73.7,190.7"/>
<polygon points="80.6,178.2 107.8,193.6 105.4,201.6 77.6,186.4"/>
<path d="M76.6 182.4L105.2 198.2" fill="none"/>
<polygon points="105.2,196 113,191.6 113,204 105.2,208.4"/>
</g>
<circle cx="107" cy="198" r="0.8" fill="#3b4ca8"/>
<circle cx="111" cy="195.6" r="0.8" fill="#3b4ca8"/>
<circle cx="107" cy="205" r="0.8" fill="#3b4ca8"/>
<circle cx="111" cy="202.6" r="0.8" fill="#3b4ca8"/>
<circle cx="75.4" cy="180.6" r="0.8" fill="#3b4ca8"/>
<circle cx="75.4" cy="187.6" r="0.8" fill="#3b4ca8"/>
<circle cx="80" cy="178" r="0.8" fill="#3b4ca8"/>
<circle cx="80" cy="184.6" r="0.8" fill="#3b4ca8"/>
<polygon points="546.2,157.6 619,117.2 619,119.2 546.2,159.6" fill="#fffaf8" stroke="#e8431f" stroke-width="0.8" />
<polygon points="546.2,159.6 619,119.2 619,124 546.2,164.4" fill="#f5a189" stroke="#e8431f" stroke-width="0.9" />
<line x1="546.2" y1="161.3" x2="619" y2="120.9" stroke="#e8431f" stroke-width="0.8" />
<line x1="546.2" y1="163" x2="619" y2="122.6" stroke="#e8431f" stroke-width="0.8" />
<line x1="563.4" y1="150.6" x2="611.6" y2="178.4" stroke="#e8431f" stroke-width="3.4" />
<line x1="563.4" y1="150.6" x2="611.6" y2="178.4" stroke="#fdeee9" stroke-width="1.5" />
<line x1="602.6" y1="127.4" x2="652.2" y2="155.4" stroke="#e8431f" stroke-width="3.4" />
<line x1="602.6" y1="127.4" x2="652.2" y2="155.4" stroke="#fdeee9" stroke-width="1.5" />
<polygon points="594.8,186 669.6,143.6 669.6,145.6 594.8,188" fill="#fffaf8" stroke="#e8431f" stroke-width="0.8" />
<polygon points="594.8,188 669.6,145.6 669.6,150.4 594.8,192.8" fill="#f5a189" stroke="#e8431f" stroke-width="0.9" />
<line x1="594.8" y1="189.7" x2="669.6" y2="147.3" stroke="#e8431f" stroke-width="0.8" />
<line x1="594.8" y1="191.4" x2="669.6" y2="149" stroke="#e8431f" stroke-width="0.8" />
<circle cx="562.6" cy="149.4" r="2.1" fill="#fdeee9" stroke="#e8431f" stroke-width="0.8"/>
<circle cx="602" cy="126.4" r="2.1" fill="#fdeee9" stroke="#e8431f" stroke-width="0.8"/>
<circle cx="611.4" cy="178.6" r="2.1" fill="#fdeee9" stroke="#e8431f" stroke-width="0.8"/>
<circle cx="651.6" cy="155.2" r="2.1" fill="#fdeee9" stroke="#e8431f" stroke-width="0.8"/>
<g stroke="#e8431f" stroke-width="0.9" fill="#fde9e3" stroke-linejoin="round">
<polygon points="601,266.2 614.7,261 614.7,274 601,281.2"/>
<path d="M601 271L614.7 265.6M601 276L614.7 270" fill="none" stroke-width="0.7"/>
<polygon points="594.6,259.5 598,258.6 601,263 601,290.6 597.4,291 594.6,287"/>
<path d="M597.6 262V289" fill="none" stroke-dasharray="2 1.6"/>
<polygon points="625,252.7 640.5,245 640.5,256.2 625,263.3"/>
<polygon points="625,252.7 627.6,251.2 643,243.8 640.5,245"/>
<path d="M625 256.4L640.5 248.8M625 260L640.5 252.6" fill="none" stroke-width="0.7"/>
<polygon points="638.4,235.2 644.6,238.4 647.8,236.6 647.8,262 644.6,264.4 644.6,240 638.4,236.8"/>
<polygon points="638.4,236.8 644.6,240 644.6,264.4 641,262.6 641,250 638.4,249"/>
<path d="M646.3 239V262" fill="none" stroke-dasharray="2 1.6"/>
</g>
<g stroke="#3b4ca8" stroke-width="0.9" stroke-linejoin="round">
<polygon points="612.3,374.8 623.4,368.6 634.8,375.4 624.1,382.6" fill="#dfe4f8"/>
<polygon points="619,328.6 624.4,324.2 633.2,328.2 633.2,376 627.4,380 619,375.6" fill="#dde3f8"/>
<path d="M627.4 332.4V380M619 328.6L627.4 332.4L633.2 328.2M621.8 330.6V377M624.6 331.6V378.4M630.4 331V378" fill="none" stroke-width="0.7"/>
<polygon points="627.6,360.8 672.2,353.7 677.8,357.2 627.6,366.4" fill="#eef1fc" stroke-width="1.1"/>
<path d="M627.6 362.6L674.6 355.4" fill="none" stroke-width="0.8"/>
</g>
<rect x="614.3" y="367.2" width="1.6" height="5" fill="#222"/>
<polygon points="519.4,445.8 563,421 563,423.6 519.4,448.4" fill="#fffaf8" stroke="#e8431f" stroke-width="1.2" />
<polygon points="519.4,448.4 563,423.6 563,425.6 519.4,450.4" fill="#e8431f" stroke="#e8431f" stroke-width="0.9" />
<polygon points="561.2,416.2 565.8,414.2 565.8,424.6 561.2,426.6" fill="#fde9e3" stroke="#e8431f" stroke-width="0.9" />
<polygon points="537.7,438.7 562,425 609.8,451.6 585.5,465.3" fill="#f5ab4c" stroke="#e8882a" stroke-width="0.8" />
<path d="M539.4 437.7L587.2 464.3M541.2 436.7L589 463.3M542.9 435.8L590.7 462.4M544.6 434.8L592.4 461.4M546.4 433.8L594.2 460.4M548.1 432.8L595.9 459.4M549.9 431.9L597.6 458.5M551.6 430.9L599.4 457.5M553.3 429.9L601.1 456.5M555.1 428.9L602.9 455.5M556.8 427.9L604.6 454.5M558.5 427L606.3 453.6M560.3 426L608.1 452.6" fill="none" stroke="#f9d29c" stroke-width="0.7" />
<polygon points="578.9,470 613,451 613,453.6 578.9,472.6" fill="#fffaf8" stroke="#e8431f" stroke-width="1.2" />
<polygon points="578.9,472.6 613,453.6 613,455.6 578.9,474.6" fill="#e8431f" stroke="#e8431f" stroke-width="0.9" />
<polygon points="610.8,445.4 616.6,443 616.6,456.6 610.8,459" fill="#fde9e3" stroke="#e8431f" stroke-width="0.9" />
<polygon points="343.2,497.4 422.8,452.2 422.8,454.8 343.2,500" fill="#fffaf8" stroke="#e8431f" stroke-width="1.2" />
<polygon points="343.2,500 422.8,454.8 422.8,456.8 343.2,502" fill="#e8431f" stroke="#e8431f" stroke-width="0.9" />
<polygon points="420,447.2 425.2,445 425.2,453.4 420,455.6" fill="#fde9e3" stroke="#e8431f" stroke-width="0.9" />
<polygon points="369.5,483.9 423.2,454.3 471.8,482.7 417,512.4" fill="#ffffff" stroke="none" stroke-width="1" />
<line x1="423.2" y1="454.3" x2="471.8" y2="482.7" stroke="#333" stroke-width="0.9" />
<line x1="370.1" y1="485.1" x2="417.2" y2="512" stroke="#111" stroke-width="3.3" />
<polygon points="407,518.6 474.2,481.4 474.2,484 407,521.2" fill="#fffaf8" stroke="#e8431f" stroke-width="1.2" />
<polygon points="407,521.2 474.2,484 474.2,486 407,523.2" fill="#e8431f" stroke="#e8431f" stroke-width="0.9" />
<polygon points="469.8,475.6 475.8,473.2 475.8,488.6 469.8,491" fill="#fde9e3" stroke="#e8431f" stroke-width="0.9" />
<g stroke="#ece028" stroke-width="1.1" fill="#fffffa" stroke-linejoin="round">
<polygon points="186.3,514.6 177.2,523.2 194.4,532.9 200.9,524.6 201.5,517.8"/>
<polygon points="217.7,514.6 226.7,523.2 210.6,532.9 202,525.3 201.5,517.8"/>
<polygon points="186.3,465 201.5,473.7 201.5,517.8 186.3,508.6"/>
<polygon points="201.5,473.7 217.7,464.6 217.7,507.6 201.5,517.8"/>
<path d="M186.3 508.6L186.3 514.6M217.7 507.6V514.6M201.5 517.8V525" fill="none"/>
</g>
<circle cx="184" cy="522.6" r="0.9" fill="#ece028"/>
<circle cx="194" cy="527.6" r="0.9" fill="#ece028"/>
<circle cx="209" cy="527.6" r="0.9" fill="#ece028"/>
<circle cx="219.6" cy="522.2" r="0.9" fill="#ece028"/>
<line x1="118" y1="200.9" x2="243.5" y2="268.3" stroke="#d3222a" stroke-width="1.1" />
<line x1="584.7" y1="167.8" x2="387.8" y2="284.5" stroke="#d3222a" stroke-width="1.1" />
<polygon points="387.8,284.5 391.6,280.1 393.4,283.2" fill="#d3222a" stroke="none" stroke-width="1" />
<line x1="591.2" y1="300.4" x2="500.5" y2="313.2" stroke="#d3222a" stroke-width="1.1" />
<line x1="606" y1="363.6" x2="503" y2="373" stroke="#d3222a" stroke-width="1.1" />
<line x1="396.8" y1="375.7" x2="540.7" y2="432.7" stroke="#d3222a" stroke-width="1.1" />
<polygon points="540.7,432.7 534.9,432.3 536.2,429" fill="#d3222a" stroke="none" stroke-width="1" />
<line x1="345.5" y1="403.5" x2="382.7" y2="473.5" stroke="#d3222a" stroke-width="1.1" />
<line x1="217.7" y1="492" x2="298.8" y2="478" stroke="#d3222a" stroke-width="1.1" />
<polygon points="298.8,478 293.7,480.7 293.1,477.2" fill="#d3222a" stroke="none" stroke-width="1" />
<line x1="108.6" y1="364.7" x2="183.2" y2="354.4" stroke="#d3222a" stroke-width="1.1" />
<polygon points="183.2,354.4 178,356.9 177.5,353.4" fill="#d3222a" stroke="none" stroke-width="1" />
</svg>
<h1>重型货架结构图</h1>
<div class="lb" style="left:18.6px;top:97px"><b>隔撑</b><p style="top:25.5px"><span>用于货架与货架背靠背的</span><span>连接<em>（主要组成部分）</em></span></p></div>
<div class="lb" style="left:632px;top:92px"><b>隔档</b><p style="top:25px"><span>支撑货物<em>（选配件）</em></span></p></div>
<div class="lb" style="left:655px;top:198px"><b>横梁</b><p style="top:25.3px"><span>连接柱片支撑</span><span>货物<em>（主要组</em></span><span><em>成部分）</em></span></p></div>
<div class="lb" style="left:680px;top:307px"><b>地角</b><p style="top:26px"><span>连接货架与地</span><span>面使货架更牢</span><span>固<em>（主要组成</em></span><span><em>部分）</em></span></p></div>
<div class="lb" style="left:8.3px;top:434px"><b>立柱片</b><p style="top:25.4px"><span>用于支撑货架的全部</span><span>重量<em>（主要组成部分）</em></span></p></div>
<div class="lb" style="left:142px;top:537px"><b>护角</b><p style="top:25.7px"><span>保护货架柱片不受叉车</span><span>接击<em>（主要组成部分）</em></span></p></div>
<div class="lb" style="left:352.6px;top:512px"><b>钢板</b><p style="top:26px"><span>平铺在横梁之间摆</span><span>放货物<em>（选配件）</em></span></p></div>
<div class="lb" style="left:522px;top:469px"><b>木板</b><p style="top:25.2px"><span>平铺在横梁之间摆</span><span>放货物<em>（选配件）</em></span></p></div>
</body></html>
